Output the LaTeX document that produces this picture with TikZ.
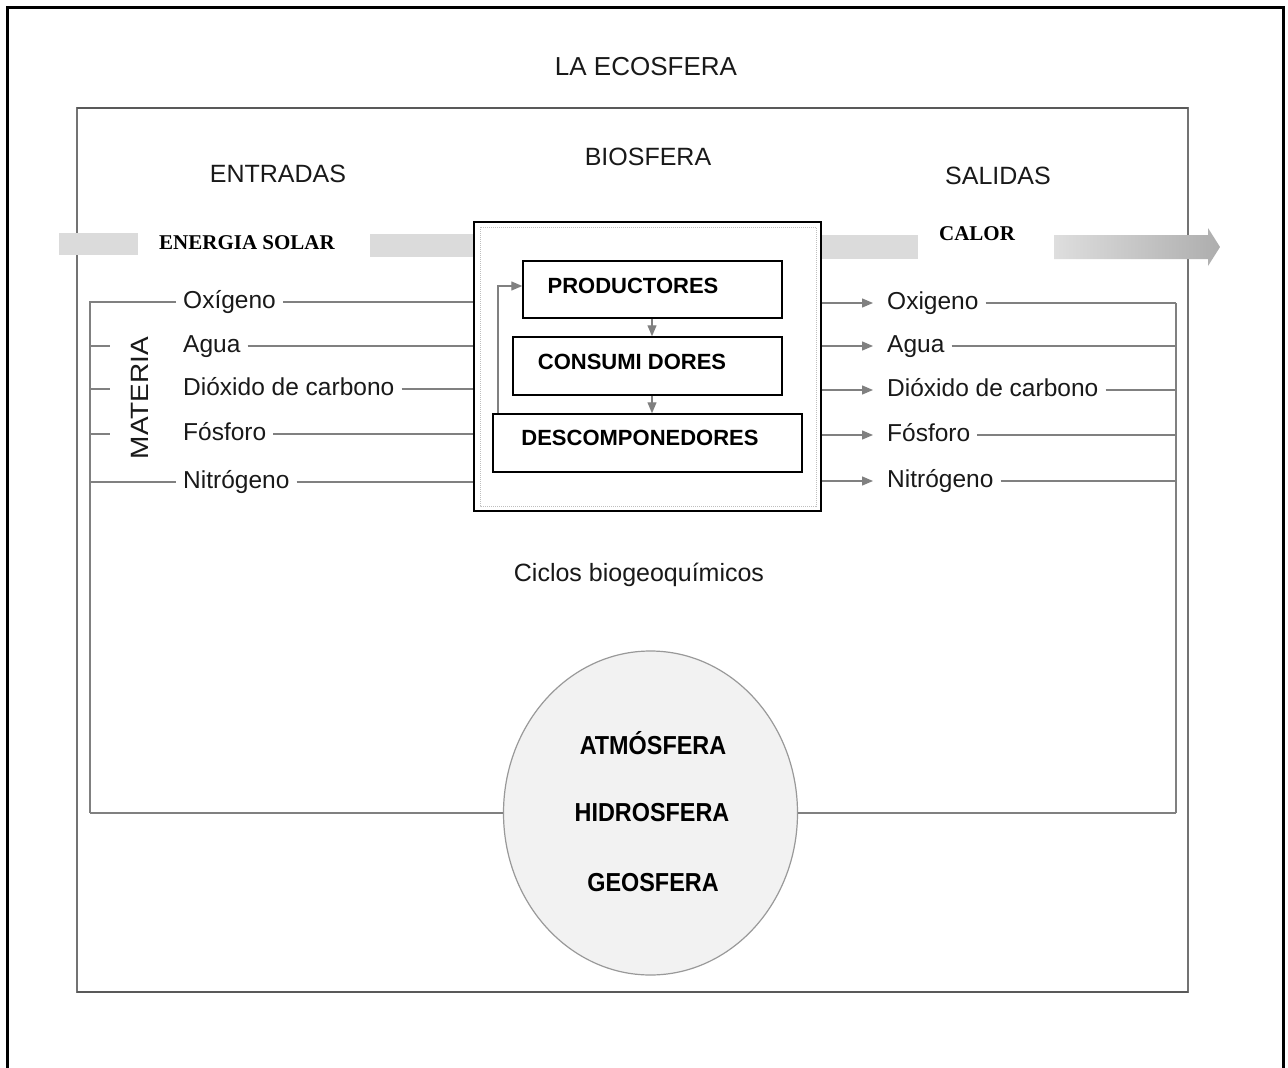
\documentclass[tikz,border=0pt]{standalone}
\usepackage{fontspec}
\setmainfont{Liberation Sans}
\newfontfamily\serifb{Liberation Serif}
\newfontfamily\condb[FakeStretch=0.9]{Liberation Sans}
\newfontfamily\widef[FakeStretch=1.12]{Liberation Sans}
\usetikzlibrary{arrows.meta,shapes.geometric}
\begin{document}
\begin{tikzpicture}[x=1pt,y=-1pt,
  gline/.style={draw=black!50,line width=1.3pt},
  garrow/.style={draw=black!50,line width=1.3pt,-{Triangle[length=11pt,width=9pt]}},
  item/.style={font=\fontsize{24.5}{28}\selectfont,text=black!90,inner xsep=7pt,inner ysep=0pt,text height=18pt,text depth=6pt,anchor=west},
  header/.style={font=\fontsize{25}{30}\selectfont,text=black!90,inner sep=0pt},
  bx/.style={draw=black,line width=1.5pt,inner sep=0pt},
  boxlabel/.style={font=\bfseries\fontsize{22}{26}\selectfont,inner sep=0pt},
  barfill/.style={fill=black!14},
  energylabel/.style={font=\serifb\bfseries\fontsize{21}{24}\selectfont,inner sep=0pt},
  spherelabel/.style={font=\condb\bfseries\fontsize{26}{30}\selectfont,text=black,inner sep=0pt}
]
\useasboundingbox (0,0) rectangle (1288,1068);
\fill[white] (0,0) rectangle (1288,1068);

% outer frame
\draw[line width=3pt] (7,1080) -- (7,7) -- (1283,7) -- (1283,1080);

% ecosphere frame
\draw[black!55,line width=1.6pt] (77,108) rectangle (1188,992);
\draw[black!65,line width=2.4pt] (77,108) -- (1188,108);
\draw[black!65,line width=2.4pt] (77,992) -- (1188,992);

% titles
\node[header,font=\fontsize{26}{30}\selectfont] (title) at (646,67) {LA ECOSFERA};
\node[header] (entr) at (278,174) {ENTRADAS};
\node[header] (biot) at (648,157) {BIOSFERA};
\node[header] (sal) at (998,176) {SALIDAS};

% biosphere box
\node[bx,minimum width=347pt,minimum height=289pt] (bio) at (647.5,366.5) {};
\draw[black!25,densely dotted,line width=1pt] (480,227) rectangle (816,506);

% energy bars
\fill[barfill] (59,233) rectangle (138,255);
\node[energylabel] (ener) at (247,243) {ENERGIA SOLAR};
\fill[barfill] (370,234) rectangle (473,257);
\fill[barfill] (822,235) rectangle (918,259);
\node[energylabel] (calor) at (977,234) {CALOR};
\shade[left color=black!13,right color=black!32]
  (1054,235) -- (1208,235) -- (1208,228) -- (1220,247) -- (1208,266) -- (1208,259) -- (1054,259) -- cycle;

% trophic boxes
\node[bx,minimum width=259pt,minimum height=57pt] (prod) at (652.5,289.5) {};
\node[boxlabel] (prodt) at (633,286) {PRODUCTORES};
\node[bx,minimum width=269pt,minimum height=58pt] (cons) at (647.5,366) {};
\node[boxlabel] (const) at (632,362) {CONSUMI DORES};
\node[bx,minimum width=309pt,minimum height=58pt] (desc) at (647.5,443) {};
\node[boxlabel] (desct) at (640,438) {DESCOMPONEDORES};

\coordinate (ax) at (652,0);
\coordinate (fb) at (498,286);
\draw[garrow] (prod.south -| ax) -- (cons.north -| ax);
\draw[garrow] (cons.south -| ax) -- (desc.north -| ax);
\draw[garrow] (desc.north -| fb) -- (fb) -- (prod.west |- fb);

% MATERIA
\node[font=\widef\fontsize{25}{30}\selectfont,text=black!90,rotate=90,inner sep=0pt] (mat) at (140,398) {MATERIA};

% left items
\node[item] (oxL) at (176,302) {Oxígeno};
\node[item] (agL) at (176,346) {Agua};
\node[item] (coL) at (176,389) {Dióxido de carbono};
\node[item] (foL) at (176,434) {Fósforo};
\node[item] (niL) at (176,482) {Nitrógeno};

\foreach \n in {oxL,agL,coL,foL,niL}
  \draw[gline] (\n.east) -- (\n.east -| bio.west);

\coordinate (lt) at (90,302);
\coordinate (lb) at (90,813);
\draw[gline] (oxL.west) -- (lt) -- (lb);
\draw[gline] (lt |- niL.west) -- (niL.west);
\foreach \n in {agL,coL,foL}
  \draw[gline] (lt |- \n.west) -- ++(20,0);

% right items
\node[item] (oxR) at (880,303) {Oxigeno};
\node[item] (agR) at (880,346) {Agua};
\node[item] (coR) at (880,390) {Dióxido de carbono};
\node[item] (foR) at (880,435) {Fósforo};
\node[item] (niR) at (880,481) {Nitrógeno};

\coordinate (rt) at (1176,303);
\coordinate (rb) at (1176,813);
\foreach \n in {oxR,agR,coR,foR,niR}{
  \draw[garrow,shorten >=7pt] (\n.west -| bio.east) -- (\n.west);
  \draw[gline] (\n.east) -- (\n.east -| rt);
}
\draw[gline] (rt) -- (rb);

% cycles
\node[header,font=\fontsize{25}{30}\selectfont] (ciclos) at (639,575) {Ciclos biogeoquímicos};

% spheres
\node[ellipse,draw=black!40,line width=1.2pt,fill=black!5,minimum width=294pt,minimum height=324pt,inner sep=0pt] (geo) at (650.5,813) {};
\draw[gline] (lb) -- (geo.west);
\draw[gline] (geo.east) -- (rb);
\node[spherelabel] (atm) at (653,743) {ATMÓSFERA};
\node[spherelabel] (hid) at (652,813) {HIDROSFERA};
\node[spherelabel] (geos) at (653,883) {GEOSFERA};
\end{tikzpicture}
\end{document}
